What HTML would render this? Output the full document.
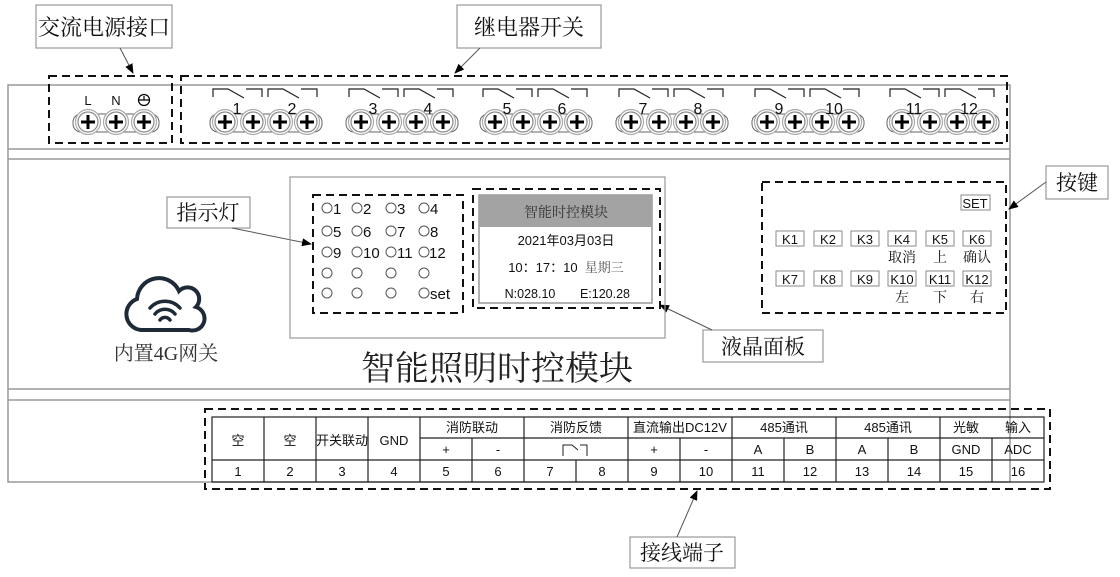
<!DOCTYPE html>
<html><head><meta charset="utf-8"><style>
html,body{margin:0;padding:0;background:#fff;width:1120px;height:577px;overflow:hidden}
svg text{font-family:"Liberation Sans","Noto Sans CJK SC",sans-serif;fill:#111}
.s{font-family:"Liberation Serif","Noto Serif CJK SC",serif!important}
</style></head><body>
<svg width="1120" height="577" viewBox="0 0 1120 577" xmlns="http://www.w3.org/2000/svg">
<defs>
<g id="t"><circle r="12.5" fill="#fff" stroke="#aaa" stroke-width="1.2"/><circle r="10" fill="#fff" stroke="#888" stroke-width="1.2"/><path d="M-7 0H7M0-7V7" stroke="#000" stroke-width="3"/></g>
<g id="r"><path d="M0 97V89H15L31 98M33 89H49V97" fill="none" stroke="#222" stroke-width="1.2"/></g>
<marker id="a" markerWidth="10" markerHeight="8" refX="9" refY="4" orient="auto" markerUnits="userSpaceOnUse"><path d="M0 0L10 4L0 8Z" fill="#000"/></marker>
</defs>
<g fill="none" stroke="#999" stroke-width="1.5">
<rect x="8" y="85" width="1002" height="397"/>
<line x1="8" y1="149" x2="1010" y2="149"/><line x1="8" y1="159" x2="1010" y2="159"/>
<line x1="8" y1="389" x2="1010" y2="389"/><line x1="8" y1="400" x2="1010" y2="400"/>
</g>
<g fill="none" stroke="#666" stroke-width="1"><rect x="73" y="114" width="86" height="18" rx="8"/>
<rect x="210" y="114" width="112" height="18" rx="8"/><rect x="346" y="114" width="112" height="18" rx="8"/>
<rect x="480" y="114" width="112" height="18" rx="8"/><rect x="616" y="114" width="112" height="18" rx="8"/>
<rect x="752" y="114" width="112" height="18" rx="8"/><rect x="887" y="114" width="112" height="18" rx="8"/></g>
<use href="#t" x="88" y="122"/><use href="#t" x="116" y="122"/><use href="#t" x="144" y="122"/>
<text x="88" y="105" font-size="13" text-anchor="middle">L</text><text x="116" y="105" font-size="13" text-anchor="middle">N</text>
<circle cx="144" cy="100" r="5.5" fill="none" stroke="#000" stroke-width="1.2"/><path d="M138.5 100H149.5M144 96V100" stroke="#000" stroke-width="1.2"/>
<g id="grp">
<use href="#t" x="225" y="122"/><use href="#t" x="253" y="122"/><use href="#t" x="280" y="122"/><use href="#t" x="307" y="122"/>
<use href="#r" x="213" y="0"/><use href="#r" x="268" y="0"/>
</g>
<use href="#grp" x="136"/><use href="#grp" x="270"/><use href="#grp" x="406"/><use href="#grp" x="542"/><use href="#grp" x="677"/>
<g font-size="16" text-anchor="middle">
<text x="237" y="114">1</text><text x="292" y="114">2</text><text x="373" y="114">3</text><text x="428" y="114">4</text>
<text x="507" y="114">5</text><text x="562" y="114">6</text><text x="643" y="114">7</text><text x="698" y="114">8</text>
<text x="779" y="114">9</text><text x="834" y="114">10</text><text x="914" y="114">11</text><text x="969" y="114">12</text></g>
<g fill="none" stroke="#111" stroke-width="2" stroke-dasharray="8,5">
<rect x="49" y="76" width="123" height="67"/><rect x="181" y="76" width="826" height="67"/>
<rect x="313" y="195" width="150" height="118"/><rect x="473" y="189" width="187" height="119"/>
<rect x="762" y="182" width="244" height="131"/><rect x="205" y="409" width="845" height="80"/>
</g>
<g fill="#fff" stroke="#999" stroke-width="1.2">
<rect x="36" y="5" width="136" height="43"/><rect x="457" y="5" width="144" height="43"/>
<rect x="167" y="197" width="83" height="31"/><rect x="703" y="330" width="120" height="32"/>
<rect x="1046" y="166" width="62" height="33"/><rect x="630" y="537" width="105" height="31"/>
</g>
<g stroke="#555" stroke-width="1" marker-end="url(#a)">
<line x1="120" y1="48" x2="133" y2="73"/><line x1="480" y1="48" x2="455" y2="73"/>
<line x1="232" y1="228" x2="311" y2="244"/><line x1="712" y1="330" x2="660" y2="305"/>
<line x1="1046" y1="182" x2="1009" y2="209"/><line x1="677" y1="537" x2="697" y2="491"/>
</g>
<g font-size="22">
<text x="104" y="35" text-anchor="middle" class="s">交流电源接口</text>
<text x="529" y="35" text-anchor="middle" class="s">继电器开关</text>
<text x="208" y="220" text-anchor="middle" class="s" font-size="21">指示灯</text>
<text x="763" y="354" text-anchor="middle" class="s" font-size="21">液晶面板</text>
<text x="1077" y="190" text-anchor="middle" class="s" font-size="21">按键</text>
<text x="682" y="560" text-anchor="middle" class="s" font-size="21">接线端子</text>
</g>
<rect x="290" y="177" width="375" height="161" fill="none" stroke="#999" stroke-width="1.2"/>
<rect x="479" y="195" width="173" height="108" fill="#fff" stroke="#999" stroke-width="1.5"/>
<rect x="479" y="195" width="173" height="32" fill="#a3a3a3"/>
<g text-anchor="middle">
<text x="566" y="217" font-size="14" class="s" style="fill:#333">智能时控模块</text>
<text x="566" y="245" font-size="13">2021年03月03日</text>
<text x="566" y="272" font-size="13">10：17：10 &#160;<tspan class="s" style="fill:#555">星期三</tspan></text>
<text x="530" y="298" font-size="12.5">N:028.10</text><text x="605" y="298" font-size="12.5">E:120.28</text>
</g>
<g fill="none" stroke="#555" stroke-width="1">
<circle cx="327" cy="208" r="5"/><circle cx="357" cy="208" r="5"/><circle cx="391" cy="208" r="5"/><circle cx="424" cy="208" r="5"/>
<circle cx="327" cy="231" r="5"/><circle cx="357" cy="231" r="5"/><circle cx="391" cy="231" r="5"/><circle cx="424" cy="231" r="5"/>
<circle cx="327" cy="252" r="5"/><circle cx="357" cy="252" r="5"/><circle cx="391" cy="252" r="5"/><circle cx="424" cy="252" r="5"/>
<circle cx="327" cy="273" r="5"/><circle cx="357" cy="273" r="5"/><circle cx="391" cy="273" r="5"/><circle cx="424" cy="273" r="5"/>
<circle cx="327" cy="293" r="5"/><circle cx="357" cy="293" r="5"/><circle cx="391" cy="293" r="5"/><circle cx="424" cy="293" r="5"/>
</g>
<g font-size="15">
<text x="333" y="214">1</text><text x="363" y="214">2</text><text x="397" y="214">3</text><text x="430" y="214">4</text>
<text x="333" y="237">5</text><text x="363" y="237">6</text><text x="397" y="237">7</text><text x="430" y="237">8</text>
<text x="333" y="258">9</text><text x="363" y="258">10</text><text x="397" y="258">11</text><text x="429" y="258">12</text>
<text x="430" y="299">set</text></g>
<g fill="#fff" stroke="#888" stroke-width="1">
<rect x="961" y="195" width="29" height="15"/>
<rect x="776" y="231" width="28" height="15"/><rect x="814" y="231" width="28" height="15"/><rect x="851" y="231" width="28" height="15"/><rect x="888" y="231" width="28" height="15"/><rect x="926" y="231" width="28" height="15"/><rect x="963" y="231" width="28" height="15"/>
<rect x="776" y="271" width="28" height="15"/><rect x="814" y="271" width="28" height="15"/><rect x="851" y="271" width="28" height="15"/><rect x="888" y="271" width="28" height="15"/><rect x="926" y="271" width="28" height="15"/><rect x="963" y="271" width="28" height="15"/>
</g>
<g font-size="13" text-anchor="middle">
<text x="975" y="208">SET</text>
<text x="790" y="244">K1</text><text x="828" y="244">K2</text><text x="865" y="244">K3</text><text x="902" y="244">K4</text><text x="940" y="244">K5</text><text x="977" y="244">K6</text>
<text x="790" y="284">K7</text><text x="828" y="284">K8</text><text x="865" y="284">K9</text><text x="902" y="284">K10</text><text x="940" y="284">K11</text><text x="977" y="284">K12</text>
<g style="font-size:14px"><text class="s" x="902" y="262">取消</text><text class="s" x="940" y="262">上</text><text class="s" x="977" y="262">确认</text>
<text class="s" x="902" y="302">左</text><text class="s" x="940" y="302">下</text><text class="s" x="977" y="302">右</text></g>
</g>
<path d="M141 330H189A12 12 0 0 0 196 307A10 10 0 0 0 179 291A22 22 0 0 0 137 299A16 16 0 0 0 141 330Z" fill="none" stroke="#1e2a38" stroke-width="4"/>
<g fill="none" stroke="#1e2a38" stroke-width="3.5" stroke-linecap="round">
<path d="M150 308A20 20 0 0 1 180 308"/><path d="M155 314A13 13 0 0 1 175 314"/><path d="M160 320A6 6 0 0 1 170 320"/></g>
<text x="166" y="360" font-size="20" text-anchor="middle" class="s" style="fill:#333">内置4G网关</text>
<text x="497" y="380" font-size="34" text-anchor="middle" class="s" style="fill:#222">智能照明时控模块</text>
<g fill="none" stroke="#222" stroke-width="1.2">
<rect x="212" y="417" width="832" height="65"/>
<line x1="212" y1="460" x2="1044" y2="460"/>
<line x1="420" y1="438" x2="1044" y2="438"/>
<path d="M264 417V482M316 417V482M368 417V482M420 417V482M472 438V482M524 417V482M576 460V482M628 417V482M680 438V482M732 417V482M784 438V482M836 417V482M888 438V482M940 417V482M992 438V482"/>
<path d="M563 456V445H572L578 450M580 445H587V456" stroke-width="1"/>
</g>
<g font-size="13" text-anchor="middle" style="font-family:'Liberation Sans Narrow','Liberation Sans','Noto Sans CJK SC',sans-serif">
<text x="238" y="445">空</text><text x="290" y="445">空</text><text x="342" y="445">开关联动</text><text x="394" y="445">GND</text>
<text x="472" y="432">消防联动</text><text x="576" y="432">消防反馈</text><text x="680" y="432">直流输出DC12V</text><text x="784" y="432">485通讯</text><text x="888" y="432">485通讯</text>
<text x="966" y="432">光敏</text><text x="1018" y="432">输入</text>
<text x="446" y="454">+</text><text x="498" y="454">-</text><text x="654" y="454">+</text><text x="706" y="454">-</text>
<text x="758" y="454">A</text><text x="810" y="454">B</text><text x="862" y="454">A</text><text x="914" y="454">B</text><text x="966" y="454">GND</text><text x="1018" y="454">ADC</text>
<text x="238" y="476">1</text><text x="290" y="476">2</text><text x="342" y="476">3</text><text x="394" y="476">4</text><text x="446" y="476">5</text><text x="498" y="476">6</text><text x="550" y="476">7</text><text x="602" y="476">8</text>
<text x="654" y="476">9</text><text x="706" y="476">10</text><text x="758" y="476">11</text><text x="810" y="476">12</text><text x="862" y="476">13</text><text x="914" y="476">14</text><text x="966" y="476">15</text><text x="1018" y="476">16</text>
</g>
</svg>
</body></html>
